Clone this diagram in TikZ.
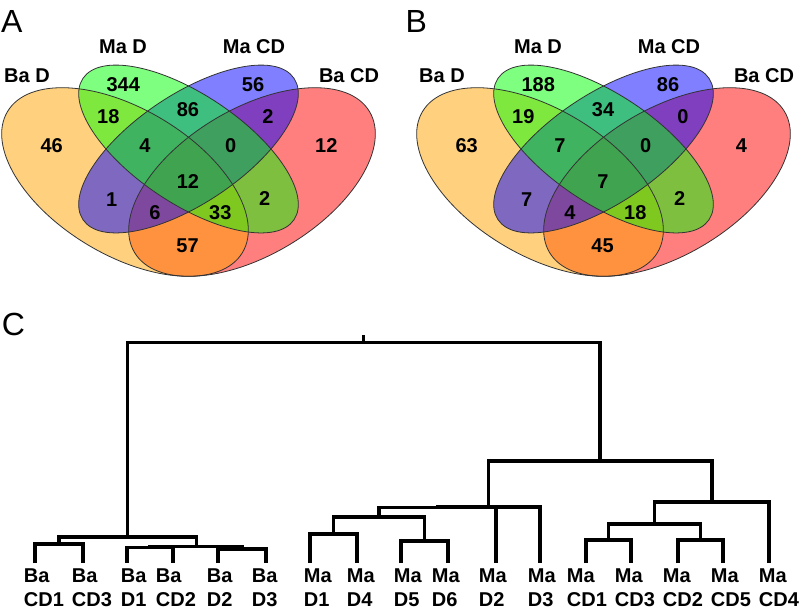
\documentclass[tikz,border=0pt]{standalone}
\usepackage{fontspec}
\setmainfont{Liberation Sans}
\definecolor{vorange}{RGB}{255,165,0}
\definecolor{vgreen}{RGB}{0,255,0}
\definecolor{vblue}{RGB}{0,0,255}
\definecolor{vred}{RGB}{255,0,0}
\newcommand\myvennshapes{%
  \fill[vred,fill opacity=0.5,rotate around={31:(252,182)}] (252,182) ellipse [x radius=137pt, y radius=73pt];
  \fill[vorange,fill opacity=0.5,rotate around={-31:(125,182)}] (125,182) ellipse [x radius=137pt, y radius=73pt];
  \fill[vblue,fill opacity=0.5,rotate around={33.8:(188.5,149)}] (188.5,149) ellipse [x radius=127pt, y radius=54.5pt];
  \fill[vgreen,fill opacity=0.5,rotate around={-33.8:(188.5,149)}] (188.5,149) ellipse [x radius=127pt, y radius=54.5pt];
  \draw[vline,rotate around={31:(252,182)}] (252,182) ellipse [x radius=137pt, y radius=73pt];
  \draw[vline,rotate around={-31:(125,182)}] (125,182) ellipse [x radius=137pt, y radius=73pt];
  \draw[vline,rotate around={33.8:(188.5,149)}] (188.5,149) ellipse [x radius=127pt, y radius=54.5pt];
  \draw[vline,rotate around={-33.8:(188.5,149)}] (188.5,149) ellipse [x radius=127pt, y radius=54.5pt];
}
\begin{document}
\begin{tikzpicture}[x=1pt,y=-1pt,
  vline/.style={draw=black!80,line width=0.8pt},
  num/.style={font=\fontsize{20}{24}\selectfont\bfseries,inner sep=0pt},
  setlab/.style={font=\fontsize{20}{24}\selectfont\bfseries,inner sep=0pt,anchor=base},
  panel/.style={font=\fontsize{32}{38}\selectfont,inner sep=0pt,anchor=north west},
  leaflab/.style={font=\fontsize{20}{23.4}\selectfont\bfseries,inner sep=0pt,anchor=north west,align=left},
  dline/.style={draw=black,line width=3.2pt,line join=miter}]
\useasboundingbox[fill=white] (0,0) rectangle (799,611);

% ---------- panel letters
\node[panel] (pA) at (1,10) {A};
\node[panel] (pB) at (405.5,10) {B};
\node[panel] (pC) at (1.7,313) {C};

% ---------- Venn A
\begin{scope}
\myvennshapes
\node[setlab] (aBaD) at (27,82.5) {Ba D};
\node[setlab] (aMaD) at (123,53.3) {Ma D};
\node[setlab] (aMaCD) at (254,53.3) {Ma CD};
\node[setlab] (aBaCD) at (349,82.5) {Ba CD};
\node[num] (a1) at (123.3,84.3) {344};
\node[num] (a2) at (253,84.3) {56};
\node[num] (a3) at (108.3,116.7) {18};
\node[num] (a4) at (188,110) {86};
\node[num] (a5) at (268,116.7) {2};
\node[num] (a6) at (51.7,145.7) {46};
\node[num] (a7) at (145,145.7) {4};
\node[num] (a8) at (230.7,145.7) {0};
\node[num] (a9) at (326.3,145.7) {12};
\node[num] (a10) at (188,182) {12};
\node[num] (a11) at (111.7,199.3) {1};
\node[num] (a12) at (264.7,198.3) {2};
\node[num] (a13) at (155,212.7) {6};
\node[num] (a14) at (220.3,212.7) {33};
\node[num] (a15) at (187.5,245.5) {57};
\end{scope}

% ---------- Venn B
\begin{scope}[xshift=415pt]
\myvennshapes
\node[setlab] (bBaD) at (27,82.5) {Ba D};
\node[setlab] (bMaD) at (123,53.3) {Ma D};
\node[setlab] (bMaCD) at (254,53.3) {Ma CD};
\node[setlab] (bBaCD) at (349,82.5) {Ba CD};
\node[num] (b1) at (123.3,84.3) {188};
\node[num] (b2) at (253,84.3) {86};
\node[num] (b3) at (108.3,116.7) {19};
\node[num] (b4) at (188,110) {34};
\node[num] (b5) at (268,116.7) {0};
\node[num] (b6) at (51.7,145.7) {63};
\node[num] (b7) at (145,145.7) {7};
\node[num] (b8) at (230.7,145.7) {0};
\node[num] (b9) at (326.3,145.7) {4};
\node[num] (b10) at (188,182) {7};
\node[num] (b11) at (111.7,199.3) {7};
\node[num] (b12) at (264.7,198.3) {2};
\node[num] (b13) at (155,212.7) {4};
\node[num] (b14) at (220.3,212.7) {18};
\node[num] (b15) at (187.5,245.5) {45};
\end{scope}

% ---------- dendrogram
\coordinate (l1) at (35,563);
\coordinate (l2) at (83,563);
\coordinate (l3) at (127,563);
\coordinate (l4) at (173,563);
\coordinate (l5) at (218,563);
\coordinate (l6) at (266,563);
\coordinate (l7) at (310,563);
\coordinate (l8) at (357,563);
\coordinate (l9) at (401,563);
\coordinate (l10) at (448,563);
\coordinate (l11) at (496,563);
\coordinate (l12) at (540,563);
\coordinate (l13) at (586,563);
\coordinate (l14) at (631,563);
\coordinate (l15) at (678,563);
\coordinate (l16) at (723,563);
\coordinate (l17) at (769,563);

\coordinate (rootstub) at (363.75,335);
\coordinate (root) at (363.75,342.7);
\coordinate (ba) at (127.5,537);
\coordinate (baL) at (59,544);
\coordinate (baR) at (196.5,546.5);
\coordinate (baDC) at (150,547.5);
\coordinate (baDt) at (242,549);
\coordinate (ma) at (600,461);
\coordinate (maD) at (488.75,507);
\coordinate (maDx) at (437.5,507.5);
\coordinate (maFour) at (379,517);
\coordinate (maDa) at (333.5,534);
\coordinate (maDb) at (424.5,541);
\coordinate (maCD) at (712,502);
\coordinate (maCDa) at (654.5,524);
\coordinate (maCDb) at (608.5,540);
\coordinate (maCDc) at (700.5,540);

\draw[dline] (rootstub) -- (root);
\draw[dline] (ba) |- (root) -| (ma);
\draw[dline] (baL) |- (ba) -| (baR);
\draw[dline] (l1) |- (baL) -| (l2);
\draw[dline] (baDC) |- (baR) -| (baDt);
\draw[dline] (l3) |- (baDC) -| (l4);
\draw[dline] (l5) |- (baDt) -| (l6);
\draw[dline] (maD) |- (ma) -| (maCD);
\draw[dline] (maDx) |- (maD) -| (l12);
\draw[dline] (maFour) |- (maDx) -| (l11);
\draw[dline] (maDa) |- (maFour) -| (maDb);
\draw[dline] (l7) |- (maDa) -| (l8);
\draw[dline] (l9) |- (maDb) -| (l10);
\draw[dline] (maCDa) |- (maCD) -| (l17);
\draw[dline] (maCDb) |- (maCDa) -| (maCDc);
\draw[dline] (l13) |- (maCDb) -| (l14);
\draw[dline] (l15) |- (maCDc) -| (l16);

\node[leaflab] (t1) at (23.7,569) {Ba\\CD1};
\node[leaflab] (t2) at (71.7,569) {Ba\\CD3};
\node[leaflab] (t3) at (120.7,569) {Ba\\D1};
\node[leaflab] (t4) at (155.7,569) {Ba\\CD2};
\node[leaflab] (t5) at (206.7,569) {Ba\\D2};
\node[leaflab] (t6) at (251.7,569) {Ba\\D3};
\node[leaflab] (t7) at (303.7,569) {Ma\\D1};
\node[leaflab] (t8) at (346.7,569) {Ma\\D4};
\node[leaflab] (t9) at (393.7,569) {Ma\\D5};
\node[leaflab] (t10) at (431.7,569) {Ma\\D6};
\node[leaflab] (t11) at (478.7,569) {Ma\\D2};
\node[leaflab] (t12) at (527.7,569) {Ma\\D3};
\node[leaflab] (t13) at (566.7,569) {Ma\\CD1};
\node[leaflab] (t14) at (614.7,569) {Ma\\CD3};
\node[leaflab] (t15) at (662.7,569) {Ma\\CD2};
\node[leaflab] (t16) at (710.7,569) {Ma\\CD5};
\node[leaflab] (t17) at (758.7,569) {Ma\\CD4};
\end{tikzpicture}
\end{document}
